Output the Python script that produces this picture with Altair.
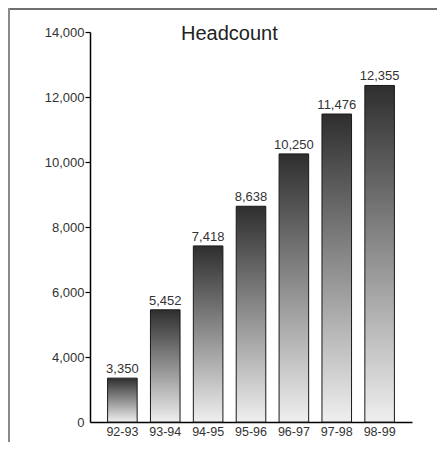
import altair as alt
import pandas as pd

periods = ["92-93", "93-94", "94-95", "95-96", "96-97", "97-98", "98-99"]
headcount = [3350, 5452, 7418, 8638, 10250, 11476, 12355]
y_ticks = [2000, 4000, 6000, 8000, 10000, 12000, 14000]

df = pd.DataFrame({"period": periods, "headcount": headcount})

FONT = "Liberation Sans"

x_enc = alt.X(
    "period:N",
    sort=periods,
    scale=alt.Scale(paddingInner=0.31, paddingOuter=0.41),
    axis=alt.Axis(
        title=None, ticks=False, labelAngle=0, labelFontSize=12.5,
        labelColor="#333333", labelFont=FONT, labelPadding=3,
        domainColor="#000000", domainWidth=1.5,
    ),
)
y_enc = alt.Y(
    "headcount:Q",
    scale=alt.Scale(domain=[2000, 14000], nice=False, zero=False),
    axis=alt.Axis(
        title=None, values=y_ticks, grid=False,
        labelExpr="datum.value == 2000 ? '0' : format(datum.value, ',')",
        labelFontSize=13, labelColor="#333333", labelFont=FONT, labelPadding=1,
        tickSize=5, tickColor="#000000", tickWidth=1.2,
        tickOpacity={"condition": {"test": "datum.value == 2000", "value": 0}, "value": 1},
        domainColor="#000000", domainWidth=1.5,
    ),
)

gradient = alt.Gradient(
    gradient="linear",
    stops=[
        alt.GradientStop(color="#2e2e2e", offset=0),
        alt.GradientStop(color="#efefef", offset=1),
    ],
    x1=0, x2=0, y1=0, y2=1,
)

bars = alt.Chart(df).mark_bar(color=gradient, stroke="#1a1a1a", strokeWidth=1).encode(
    x=x_enc, y=y_enc, y2=alt.datum(2000)
)

labels = alt.Chart(df).mark_text(
    baseline="alphabetic", dy=-5, fontSize=13, font=FONT, color="#333333"
).encode(
    x=alt.X("period:N", sort=periods),
    y=alt.Y("headcount:Q"),
    text=alt.Text("headcount:Q", format=","),
)

frame_top = alt.Chart(df).mark_rule(color="#6e6e6e", strokeWidth=1.6).encode(
    x=alt.value(-81.2), x2=alt.value(360), y=alt.value(-23.2)
)
frame_left = alt.Chart(df).mark_rule(color="#8a8a8a", strokeWidth=1.6).encode(
    x=alt.value(-81.2), y=alt.value(-24), y2=alt.value(420)
)

chart = alt.layer(frame_top, frame_left, bars, labels).properties(
    width=322,
    height=390,
    background="white",
    padding={"left": 82, "top": 24, "right": 25, "bottom": 20},
    autosize=alt.AutoSizeParams(type="none"),
    title=alt.TitleParams(
        "Headcount", anchor="start", frame="group", fontSize=20, font=FONT,
        fontWeight="normal", color="#222222", baseline="alphabetic",
        offset=0, dx=91, dy=53,
    ),
).configure_view(stroke="transparent", strokeWidth=0)

chart.save("out.html", embed_options={"renderer": "svg", "actions": False})
